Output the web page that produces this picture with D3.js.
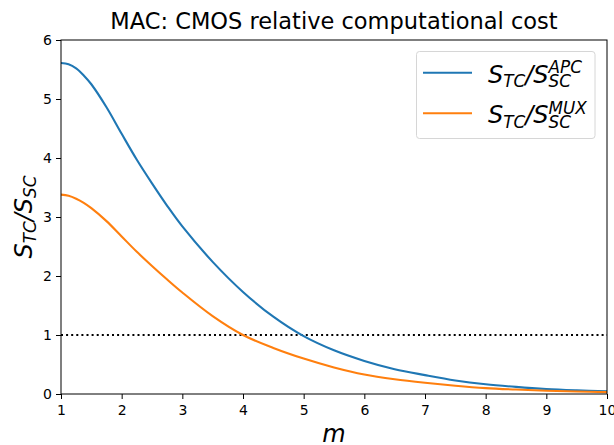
<!DOCTYPE html>
<meta charset="utf-8">
<head>
    <title>MAC: CMOS relative computational cost</title>
    <script type="text/javascript" src="https://d3js.org/d3.v7.min.js"></script>
    <style>
        body { margin: 0; background: #fff; }
        text { font-family: "DejaVu Sans", sans-serif; fill: #000; }
        .tick text { font-size: 14px; }
    </style>
</head>
<body>
    <div id="chart"></div>
<script>
    // values
    const mValues = [1, 1.125, 1.25, 1.375, 1.5, 1.75, 2, 2.25, 2.5, 2.75, 3, 3.5, 4, 4.5, 5, 5.5, 6, 6.5, 7, 7.5, 8, 8.5, 9, 9.5, 10];
    const apcRatio = [5.61, 5.59, 5.52, 5.40, 5.25, 4.86, 4.41, 3.97, 3.57, 3.19, 2.84, 2.24, 1.73, 1.31, 0.98, 0.74, 0.56, 0.42, 0.32, 0.23, 0.165, 0.12, 0.085, 0.063, 0.047];
    const muxRatio = [3.38, 3.36, 3.31, 3.24, 3.15, 2.93, 2.67, 2.41, 2.17, 1.94, 1.72, 1.32, 1.00, 0.78, 0.60, 0.45, 0.33, 0.25, 0.19, 0.14, 0.10, 0.075, 0.056, 0.042, 0.031];
    const xTicks = [1, 2, 3, 4, 5, 6, 7, 8, 9, 10];
    const yTicks = [0, 1, 2, 3, 4, 5, 6];
    const threshold = 1;
    const seriesNames = ["APC", "MUX"];
    const colors = ["#1f77b4", "#ff7f0e"];

    const width = 614, height = 445;
    const margin = {top: 40, right: 7, bottom: 51, left: 61};
    const w = width - margin.left - margin.right;
    const h = height - margin.top - margin.bottom;

    const svg = d3.select("#chart").append("svg")
        .attr("width", width)
        .attr("height", height);

    const g = svg.append("g")
        .attr("transform", "translate(" + margin.left + "," + margin.top + ")");

    const x = d3.scaleLinear().domain([1, 10]).range([0, w]);
    const y = d3.scaleLinear().domain([0, 6]).range([h, 0]);

    g.append("clipPath").attr("id", "clip")
        .append("rect").attr("width", w).attr("height", h);

    // axes
    g.append("g")
        .attr("transform", "translate(0," + h + ")")
        .call(d3.axisBottom(x).tickValues(xTicks).tickSize(5).tickPadding(6).tickFormat(d3.format("d")))
        .call(a => a.select(".domain").remove());
    g.append("g")
        .call(d3.axisLeft(y).tickValues(yTicks).tickSize(5).tickPadding(4).tickFormat(d3.format("d")))
        .call(a => a.select(".domain").remove());
    g.selectAll(".tick line").attr("stroke", "#000").attr("stroke-width", 1);

    // dotted line at 1
    g.append("line")
        .attr("x1", 0).attr("x2", w)
        .attr("y1", y(threshold)).attr("y2", y(threshold))
        .attr("stroke", "#000")
        .attr("stroke-width", 2)
        .attr("stroke-dasharray", "2,3.1");

    const line = d3.line()
        .x(d => x(d[0]))
        .y(d => y(d[1]))
        .curve(d3.curveCatmullRom.alpha(0.5));

    [apcRatio, muxRatio].forEach((vals, i) => {
        g.append("path")
            .datum(mValues.map((m, j) => [m, vals[j]]))
            .attr("clip-path", "url(#clip)")
            .attr("fill", "none")
            .attr("stroke", colors[i])
            .attr("stroke-width", 2.1)
            .attr("d", line);
    });

    // frame
    g.append("rect")
        .attr("width", w).attr("height", h)
        .attr("fill", "none")
        .attr("stroke", "#000")
        .attr("stroke-width", 1);

    // mathtext-like label: S_TC / S_SC^sup
    function mathLabel(parent, size, sup) {
        const t = parent.append("text").style("font-size", size + "px");
        const it = s => t.append("tspan").style("font-style", "italic").text(s);
        it("S");
        it("TC").style("font-size", size * 0.7 + "px").attr("dy", size * 0.19);
        it("/").attr("dy", -size * 0.19);
        it("S");
        const sub = it("SC").style("font-size", size * 0.7 + "px").attr("dy", size * 0.19);
        if (sup) {
            const subLen = sub.node().getComputedTextLength();
            it(sup).style("font-size", size * 0.7 + "px")
                .attr("dx", -subLen)
                .attr("dy", -size * 0.58);
        }
        return t;
    }

    // title
    svg.append("text")
        .attr("x", margin.left + w / 2)
        .attr("y", 29)
        .attr("text-anchor", "middle")
        .style("font-size", "22.5px")
        .text("MAC: CMOS relative computational cost");

    // x label
    svg.append("text")
        .attr("x", margin.left + w / 2)
        .attr("y", 442)
        .attr("text-anchor", "middle")
        .style("font-size", "24px")
        .style("font-style", "italic")
        .text("m");

    // y label
    const yl = svg.append("g");
    const ylab = mathLabel(yl, 24, null);
    const yw = ylab.node().getComputedTextLength();
    ylab.attr("transform", "translate(31.5," + (margin.top + h / 2 + yw / 2) + ") rotate(-90)");

    // legend
    const legend = svg.append("g");
    legend.append("rect")
        .attr("x", 416.5).attr("y", 51.5)
        .attr("width", 178.5).attr("height", 87)
        .attr("rx", 3)
        .attr("fill", "#fff")
        .attr("fill-opacity", 0.8)
        .attr("stroke", "#d6d6d6")
        .attr("stroke-width", 1);
    seriesNames.forEach((name, i) => {
        const ly = 72.7 + i * 40.6;
        legend.append("line")
            .attr("x1", 423).attr("x2", 472)
            .attr("y1", ly).attr("y2", ly)
            .attr("stroke", colors[i])
            .attr("stroke-width", 2.1);
        mathLabel(legend, 24, name)
            .attr("x", 488)
            .attr("y", ly + 10);
    });
</script>
</body>
</html>
